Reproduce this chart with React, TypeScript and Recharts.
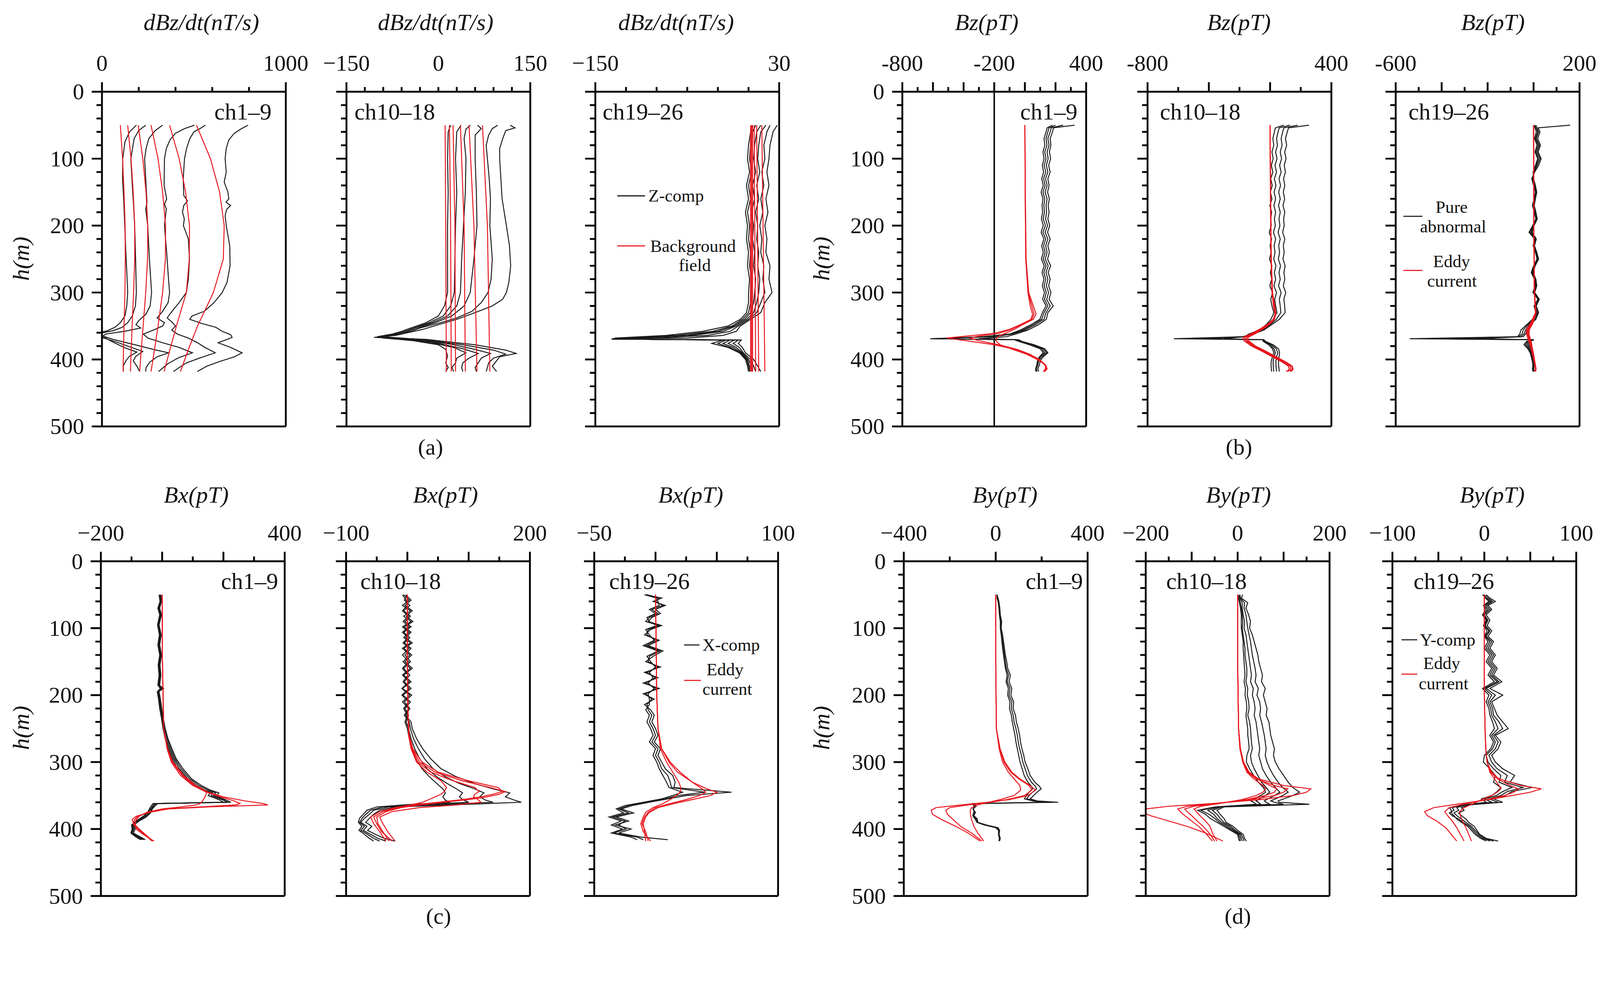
import React from 'react';
import { LineChart, Line, XAxis, YAxis, ReferenceLine } from 'recharts';

const FONT = '"Liberation Serif", "DejaVu Serif", serif';
const BLACK = '#1a1a1a';
const RED = '#e8141c';

// ---------- shared depth ticks ----------
const Y_TICKS = [0, 20, 40, 60, 80, 100, 120, 140, 160, 180, 200, 220, 240, 260, 280, 300, 320, 340, 360, 380, 400, 420, 440, 460, 480, 500];

// ---------- (a) dBz/dt ----------
const A1_RED_H = [50, 100, 150, 200, 250, 300, 350, 385, 418];
const A1_RED = [
  [100, 112, 120, 126, 127, 125, 120, 117, 115],
  [140, 158, 170, 178, 178, 172, 164, 159, 155],
  [197, 222, 240, 249, 248, 238, 224, 214, 205],
  [267, 305, 330, 346, 345, 330, 305, 286, 267],
  [368, 420, 455, 476, 475, 459, 405, 370, 338],
  [514, 590, 640, 665, 660, 606, 520, 470, 427],
];
const A1_BLACK: number[][][] = [
  [[50,187],[60,150],[75,125],[100,113],[130,112],[160,118],[200,124],[240,130],[280,137],[300,140],[320,135],[335,125],[345,100],[352,70],[357,30],[361,-35],[364,-30],[368,20],[374,60],[382,120],[389,190],[395,150],[402,130],[410,115],[418,116]],
  [[50,238],[58,200],[70,175],[100,157],[140,165],[170,172],[200,178],[250,183],[300,187],[320,182],[335,165],[345,140],[352,110],[357,60],[361,-10],[364,-38],[368,10],[374,80],[381,150],[388,222],[395,185],[402,170],[410,190],[418,205]],
  [[50,330],[58,290],[70,255],[85,240],[100,232],[140,240],[165,245],[175,238],[200,249],[250,258],[300,270],[320,262],[332,240],[342,200],[348,185],[353,210],[358,120],[362,20],[365,5],[370,60],[378,180],[385,280],[390,362],[396,300],[404,260],[412,240],[418,238]],
  [[50,503],[55,450],[62,400],[72,370],[85,350],[100,340],[140,338],[160,352],[168,340],[175,350],[200,340],[240,352],[280,362],[300,368],[315,360],[328,330],[338,300],[345,340],[350,330],[356,280],[362,225],[368,250],[375,330],[382,420],[390,492],[397,420],[406,360],[418,308]],
  [[50,562],[54,540],[60,500],[70,478],[85,460],[100,449],[130,442],[155,445],[163,465],[170,445],[180,438],[190,448],[200,443],[220,470],[250,476],[280,470],[300,459],[315,420],[325,390],[332,370],[338,355],[344,380],[350,400],[356,380],[362,410],[368,470],[375,520],[382,560],[390,616],[397,540],[405,460],[412,420],[418,389]],
  [[50,795],[55,760],[62,720],[72,690],[85,676],[100,670],[120,676],[135,665],[150,685],[160,690],[165,675],[170,700],[176,678],[185,670],[200,676],[230,695],[260,697],[285,680],[300,654],[315,610],[328,557],[335,490],[340,478],[346,540],[352,620],[358,654],[363,700],[367,708],[370,680],[375,632],[382,700],[390,762],[396,720],[403,640],[410,570],[418,519]],
];

const A2_RED_H = [50, 200, 418];
const A2_RED = [[11, 12, 13], [18, 20, 21], [24, 27, 28], [36, 42, 44], [50, 58, 63], [72, 80, 84]];
const A2_BLACK: number[][][] = [
  [[50,20],[60,16],[100,15],[150,16],[200,15],[250,15],[300,15],[320,10],[335,0],[345,-20],[353,-45],[358,-60],[362,-75],[366,-100],[368,-90],[372,-40],[378,0],[385,12],[395,15],[405,12],[412,16],[418,12]],
  [[50,37],[60,30],[100,28],[150,30],[200,28],[250,27],[300,26],[320,20],[335,8],[345,-15],[353,-40],[358,-55],[362,-70],[366,-98],[369,-60],[375,-10],[382,25],[390,45],[398,30],[405,28],[412,22],[418,25]],
  [[50,52],[56,45],[70,42],[100,45],[150,44],[200,41],[250,38],[300,36],[320,30],[335,15],[345,-10],[352,-35],[358,-50],[362,-68],[366,-95],[370,-50],[376,0],[384,40],[391,65],[398,50],[405,40],[412,38],[418,40]],
  [[50,64],[55,70],[65,60],[100,60],[150,62],[200,63],[250,58],[300,52],[320,42],[335,22],[345,-5],[352,-30],[358,-45],[362,-60],[366,-92],[370,-40],[377,20],[385,60],[391,85],[398,70],[405,65],[412,60],[418,62]],
  [[50,97],[55,88],[65,82],[80,78],[100,80],[130,83],[160,85],[200,84],[250,88],[280,86],[300,81],[315,70],[328,55],[338,30],[346,0],[353,-30],[358,-45],[362,-60],[366,-90],[370,-30],[378,40],[386,90],[392,110],[398,90],[405,82],[412,80],[418,78]],
  [[50,117],[54,125],[58,110],[70,105],[85,100],[100,100],[130,102],[160,104],[200,111],[230,116],[260,118],[285,115],[300,111],[310,105],[320,88],[330,60],[340,30],[348,0],[355,-25],[360,-50],[364,-70],[367,-105],[370,-20],[378,60],[386,110],[391,127],[396,100],[402,95],[410,88],[418,95]],
];

const A3_RED_H = [50, 418];
const A3_RED = [[2, 2], [3, 3], [4, 4], [5.5, 7], [8, 10], [13, 16]];
const A3_H = [50, 60, 80, 100, 120, 140, 160, 180, 200, 220, 240, 260, 280, 300, 315, 330, 340, 350, 358, 364, 368, 369.5, 371, 376, 382, 390, 400, 410, 418];
const A3_BLACK = [
  [28, 24, 21, 20, 18, 20, 17, 19, 16, 18, 17, 21, 20, 23, 16, 12, 2, -8, -12, -25, -60, -134, -7, -10, -6, -3, 5, 9, 12],
  [21, 18, 15, 16, 13, 15, 12, 14, 11, 13, 12, 15, 14, 16, 12, 8, 0, -10, -18, -40, -90, -134, -10, -15, -9, -5, 2, 5, 7],
  [17, 12, 10, 9, 11, 8, 10, 7, 9, 8, 10, 9, 11, 10, 8, 5, -2, -12, -25, -55, -110, -134, -14, -20, -12, -6, 0, 3, 4],
  [12, 8, 6, 5, 7, 4, 6, 3, 5, 4, 6, 5, 7, 6, 5, 2, -4, -14, -30, -60, -120, -134, -18, -25, -15, -7, -1, 1, 2],
  [7, 4, 2, 1, 3, 0, 2, -1, 1, 0, 2, 1, 3, 2, 2, 0, -6, -16, -35, -70, -125, -134, -22, -30, -18, -8, -2, 0, 1],
  [4, 2, 0, -1, 1, -2, 0, -3, -1, -2, 0, -1, 1, 0, 0, -2, -8, -20, -45, -80, -130, -134, -25, -36, -20, -9, -3, -1, 0],
];

// ---------- (b) Bz ----------
const B_H = [50, 54, 60, 70, 80, 90, 100, 110, 120, 130, 140, 150, 160, 170, 180, 190, 200, 210, 220, 230, 240, 250, 260, 270, 280, 290, 300, 310, 320, 330, 340, 348, 356, 362, 366, 369, 370.5, 373, 378, 384, 390, 396, 402, 408, 414, 418];
const B1_BLACK = [
  [324, 187, 180, 165, 170, 160, 168, 155, 165, 150, 158, 148, 160, 152, 158, 150, 162, 148, 165, 150, 160, 148, 168, 152, 165, 155, 170, 158, 185, 150, 140, 90, 20, -60, -120, -300, -40, -20, 60, 130, 150, 120, 100, 95, 85, 90],
  [250, 172, 165, 150, 158, 145, 152, 140, 150, 135, 145, 132, 145, 138, 142, 135, 148, 132, 150, 136, 145, 133, 152, 138, 150, 140, 155, 142, 165, 138, 125, 70, 0, -80, -200, -618, -50, -30, 50, 120, 142, 110, 90, 85, 75, 80],
  [200, 157, 150, 138, 144, 130, 138, 126, 136, 122, 132, 118, 130, 124, 128, 120, 134, 118, 136, 122, 132, 120, 138, 124, 136, 126, 140, 128, 150, 125, 110, 55, -15, -90, -250, -560, -60, -35, 40, 110, 130, 100, 85, 80, 72, 75],
  [180, 145, 138, 125, 130, 118, 125, 114, 122, 110, 120, 106, 118, 112, 116, 108, 120, 106, 124, 110, 120, 108, 126, 112, 124, 114, 128, 116, 138, 114, 98, 40, -30, -100, -280, -600, -70, -40, 30, 100, 120, 95, 82, 78, 70, 72],
];
const B1_RED_H = [50, 150, 250, 300, 320, 332, 340, 348, 355, 361, 365, 368, 372, 378, 385, 392, 400, 408, 414, 418];
const B1_RED = [
  [0, 2, 6, 20, 35, 50, 40, -30, -100, -200, -380, -511, -380, -200, -60, 20, 90, 130, 140, 125],
  [0, 2, 6, 22, 45, 60, 45, -25, -90, -170, -300, -359, -300, -170, -50, 30, 95, 135, 145, 130],
  [0, 3, 8, 25, 55, 73, 55, -15, -70, -130, -170, -185, -190, -162, -80, 10, 81, 134, 135, 119],
];
const B2_BLACK = [
  [254, 120, 112, 100, 108, 95, 104, 92, 100, 88, 96, 86, 95, 84, 96, 88, 92, 82, 96, 86, 92, 84, 98, 90, 96, 86, 102, 90, 95, 98, 60, 10, -40, -110, -180, -629, -40, -30, 20, 55, 62, 58, 55, 55, 58, 60],
  [180, 90, 82, 72, 78, 66, 75, 62, 72, 58, 68, 56, 66, 55, 66, 58, 64, 52, 66, 56, 62, 54, 68, 58, 66, 55, 72, 60, 66, 70, 40, 0, -50, -120, -175, -500, -45, -35, 10, 40, 50, 42, 38, 38, 40, 42],
  [130, 60, 52, 42, 48, 36, 45, 32, 42, 28, 38, 26, 36, 25, 36, 28, 34, 22, 36, 26, 32, 24, 38, 28, 36, 25, 42, 30, 36, 45, 20, -15, -60, -130, -170, -400, -48, -40, 0, 25, 35, 25, 20, 20, 22, 24],
  [90, 35, 28, 18, 24, 12, 20, 8, 18, 4, 14, 2, 12, -2, 10, 4, 8, -6, 10, 0, 6, -4, 12, 2, 10, -2, 16, 4, 12, 25, 5, -25, -70, -140, -165, -300, -50, -45, -10, 15, 25, 15, 8, 6, 8, 10],
];
const B2_RED_H = [50, 150, 250, 300, 320, 332, 340, 348, 355, 362, 367, 372, 380, 388, 396, 404, 410, 415, 418];
const B2_RED = [
  [0, 2, 6, 12, 22, 32, 20, -20, -70, -130, -176, -170, -121, -50, 15, 80, 120, 125, 105],
  [0, 2, 6, 14, 25, 34, 22, -15, -60, -120, -165, -160, -110, -40, 25, 90, 130, 135, 115],
  [0, 3, 7, 15, 28, 36, 25, -10, -55, -110, -155, -150, -100, -30, 35, 100, 140, 145, 130],
  [0, 3, 8, 16, 30, 38, 28, -5, -50, -100, -145, -140, -95, -25, 40, 105, 145, 150, 135],
];
const B3_BLACK = [
  [159, 20, 28, 18, 30, 20, 33, 22, 5, -8, 0, 8, 2, -5, 3, 10, -4, -20, 5, -2, 8, 15, 0, -10, 3, 6, -3, 20, 2, 10, -5, -30, -55, -60, -70, -539, -5, -30, -42, -25, -15, -10, -6, -3, -5, -3],
  [10, 15, 22, 12, 25, 15, 28, 16, 2, -5, 4, 10, 4, -3, 6, 12, -2, -15, 8, 0, 10, 18, 3, -7, 6, 9, 0, 18, 5, 14, 0, -25, -45, -50, -65, -450, -2, -25, -35, -20, -12, -8, -4, -2, -3, -1],
  [5, 10, 18, 8, 20, 10, 22, 12, 0, -3, 6, 12, 6, 0, 8, 14, 0, -10, 10, 2, 12, 20, 5, -4, 8, 12, 2, 22, 8, 18, 5, -20, -35, -42, -55, -350, 0, -20, -28, -15, -8, -5, -2, 0, -1, 0],
  [2, 6, 12, 4, 15, 6, 18, 8, -2, 0, 8, 14, 8, 3, 10, 16, 2, -6, 12, 4, 14, 22, 7, -1, 10, 14, 5, 25, 12, 22, 10, -15, -28, -35, -45, -250, 2, -15, -22, -10, -5, -2, 0, 2, 1, 2],
];
const B3_RED_H = [50, 200, 300, 330, 345, 355, 362, 368, 374, 382, 392, 404, 414, 418];
const B3_RED = [
  [0, 1, 3, 8, -12, -32, -30, -25, -20, -12, -5, 3, 8, 6],
  [0, 1, 3, 9, -8, -26, -28, -22, -18, -10, -3, 4, 9, 7],
  [0, 1, 4, 10, -5, -22, -24, -18, -14, -8, -2, 5, 10, 8],
  [0, 1, 4, 11, -2, -18, -20, -15, -10, -6, 0, 6, 11, 9],
];

// ---------- (c) Bx ----------
const C1_H = [50, 60, 70, 80, 95, 110, 125, 140, 155, 170, 185, 190, 195, 205, 220, 235, 250, 265, 280, 295, 310, 325, 335, 342, 346, 350, 356, 360, 362, 365, 370, 376, 382, 388, 394, 400, 406, 412, 416];
const C1_BLACK = [
  [-6, -3, -10, -4, -12, -5, -10, -4, -9, -6, -10, 5, -12, -8, -3, 2, 8, 16, 28, 42, 62, 90, 120, 150, 175, 168, 205, 224, -20, -27, -35, -40, -55, -78, -95, -92, -98, -75, -60],
  [-8, -5, -12, -6, -14, -7, -12, -6, -11, -8, -12, 0, -15, -10, -6, 0, 5, 12, 24, 38, 56, 84, 112, 140, 165, 160, 195, 215, -25, -30, -38, -45, -60, -82, -98, -95, -100, -80, -65],
  [-4, -2, -8, -2, -10, -3, -8, -2, -7, -4, -8, -4, -10, -6, -1, 4, 10, 19, 32, 46, 68, 96, 128, 158, 185, 178, 200, 210, -15, -22, -32, -38, -52, -75, -92, -88, -94, -70, -55],
  [-10, -7, -14, -8, -15, -9, -14, -8, -13, -10, -14, -6, -16, -12, -8, -2, 3, 10, 20, 34, 50, 78, 105, 132, 158, 150, 185, 200, -30, -35, -42, -48, -65, -85, -100, -98, -102, -85, -70],
];
const C1_RED_H = [50, 150, 250, 280, 300, 320, 335, 345, 352, 358, 362, 364, 367, 370, 375, 381, 386, 392, 400, 408, 418];
const C1_RED = [
  [0, 1, 5, 18, 35, 70, 110, 150, 200, 270, 330, 345, 150, 20, -40, -85, -98, -92, -75, -55, -30],
  [0, 1, 5, 17, 33, 66, 105, 145, 190, 235, 254, 240, 120, 10, -45, -80, -90, -95, -80, -58, -33],
  [0, 1, 5, 16, 30, 60, 100, 145, 140, 132, 124, 110, 60, 0, -50, -75, -85, -88, -85, -62, -27],
];
const C2_H = [50, 58, 66, 74, 82, 90, 98, 106, 114, 122, 130, 140, 150, 160, 170, 180, 190, 200, 210, 220, 230, 240, 250, 265, 280, 295, 310, 322, 332, 340, 346, 352, 357, 360, 363, 367, 372, 378, 384, 390, 396, 402, 408, 414, 418];
const C2_BLACK = [
  [-3, 6, -4, 8, -2, 9, -5, 6, -3, 8, -6, 7, -4, 8, -6, 6, -8, 7, -5, 4, -3, 6, 8, 15, 25, 38, 55, 80, 109, 140, 167, 160, 175, 186, 100, -20, -45, -55, -62, -68, -58, -65, -52, -38, -20],
  [-6, 3, -8, 5, -6, 6, -8, 3, -6, 5, -8, 4, -7, 5, -8, 3, -9, 4, -8, 2, -5, 3, 5, 10, 18, 28, 42, 62, 85, 110, 125, 118, 128, 140, 60, -30, -55, -62, -70, -76, -66, -72, -60, -48, -35],
  [0, -5, 4, -6, 5, -4, 6, -6, 4, -5, 6, -4, 5, -6, 4, -5, 6, -7, 5, -4, 2, -2, 2, 6, 12, 20, 32, 48, 65, 80, 90, 85, 92, 100, 30, -40, -60, -68, -74, -78, -70, -76, -65, -55, -45],
  [-8, -2, 0, -8, 2, -7, 3, -8, 1, -7, 3, -8, 2, -8, 1, -7, 3, -9, 2, -6, 0, -4, 0, 3, 8, 14, 24, 36, 48, 58, 62, 58, 62, 70, 10, -50, -66, -72, -78, -80, -74, -79, -70, -62, -55],
];
const C2_RED_H = [50, 150, 230, 260, 280, 300, 315, 328, 338, 344, 348, 352, 356, 360, 364, 368, 374, 382, 392, 404, 418];
const C2_RED = [
  [0, 0, 1, 3, 8, 20, 45, 90, 135, 160, 150, 130, 100, 60, 20, -10, -35, -50, -48, -40, -30],
  [0, 0, 1, 3, 7, 17, 38, 75, 110, 117, 110, 108, 115, 120, 80, 20, -25, -45, -40, -32, -20],
  [0, 0, 1, 2, 6, 15, 32, 55, 64, 60, 55, 45, 35, 25, 5, -20, -45, -60, -55, -45, -35],
  [0, 0, 1, 3, 9, 24, 50, 100, 148, 155, 140, 120, 90, 50, 10, -15, -40, -55, -50, -42, -25],
];
const C3_H = [50, 55, 60, 66, 72, 78, 84, 90, 96, 102, 110, 118, 126, 134, 142, 150, 158, 166, 174, 182, 190, 198, 206, 214, 222, 230, 240, 250, 260, 270, 280, 290, 300, 310, 320, 330, 338, 345, 350, 355, 360, 365, 370, 376, 382, 388, 394, 400, 406, 412, 416];
const C3_BLACK = [
  [-8, 5, -2, 8, 0, 4, -3, -6, 5, -4, -9, 3, -6, 6, -2, -8, 4, -9, 2, -10, 3, -10, -1, -9, -4, -1, -3, 0, 2, -1, 4, 2, 5, 8, 14, 16, 15, 62, 25, 10, -5, -19, -28, -18, -32, -22, -33, -20, -30, -12, 10],
  [-7, 3, 0, 6, -3, 2, -5, -8, 3, -6, -7, 1, -8, 4, -5, -6, 2, -7, 0, -8, 1, -8, -3, -7, -6, -3, -5, -2, 0, -3, 2, 0, 3, 5, 10, 12, 13, 40, 18, 8, -8, -22, -30, -22, -35, -25, -30, -24, -34, -15, -10],
  [-9, 1, 2, 3, -5, 0, -7, -5, 1, -8, -5, -1, -10, 2, -7, -4, 0, -5, -2, -6, -1, -6, -5, -5, -8, -5, -7, -4, -2, -5, 0, -2, 1, 3, 6, 9, 11, 22, 14, 5, -10, -25, -32, -26, -38, -28, -36, -27, -36, -20, -15],
];
const C3_RED_H = [50, 200, 250, 280, 300, 315, 330, 340, 345, 350, 356, 362, 368, 375, 382, 392, 404, 418];
const C3_RED = [
  [0, 1, 2, 5, 11, 18, 30, 42, 50, 45, 30, 15, 2, -5, -8, -10, -9, -8],
  [0, 1, 2, 5, 12, 20, 30, 38, 41, 36, 25, 12, 0, -6, -9, -11, -8, -6],
  [0, 1, 2, 4, 9, 14, 19, 21, 20, 17, 12, 6, -2, -8, -10, -12, -10, -4],
];

// ---------- (d) By ----------
const D1_H = [50, 55, 60, 70, 80, 90, 100, 110, 120, 130, 140, 150, 160, 170, 180, 190, 200, 210, 220, 230, 240, 250, 260, 270, 280, 290, 300, 310, 320, 330, 336, 340, 345, 350, 355, 358, 360, 362, 366, 370, 375, 380, 385, 390, 394, 398, 402, 408, 414, 418];
const D1_BLACK = [
  [6, 10, 14, 18, 20, 26, 24, 30, 34, 38, 42, 48, 52, 64, 58, 70, 66, 78, 76, 86, 90, 98, 104, 108, 114, 122, 128, 140, 150, 170, 190, 198, 180, 165, 150, 180, 272, -90, -85, -100, -88, -95, -80, -78, -40, 10, 17, 15, 20, 17],
  [6, 8, 12, 16, 18, 22, 22, 26, 30, 34, 38, 42, 46, 56, 50, 62, 58, 70, 68, 76, 80, 88, 94, 98, 104, 112, 118, 128, 138, 155, 172, 178, 160, 145, 135, 170, 240, -95, -90, -98, -92, -97, -85, -80, -45, 5, 15, 13, 18, 15],
  [6, 6, 10, 14, 16, 20, 20, 24, 27, 30, 34, 38, 42, 50, 45, 55, 52, 62, 60, 68, 72, 78, 84, 88, 94, 100, 106, 115, 124, 140, 155, 160, 145, 134, 125, 160, 200, -100, -95, -96, -95, -100, -90, -82, -50, 0, 12, 12, 16, 14],
];
const D1_RED_H = [50, 150, 250, 280, 300, 315, 325, 335, 342, 350, 356, 360, 364, 368, 372, 378, 386, 396, 406, 418];
const D1_RED = [
  [0, 0, 3, 19, 40, 70, 105, 150, 173, 140, 60, -36, -150, -260, -281, -275, -235, -174, -120, -68],
  [0, 0, 3, 17, 36, 65, 100, 145, 157, 125, 50, -20, -120, -200, -217, -210, -185, -153, -105, -60],
  [0, 0, 3, 15, 30, 55, 80, 105, 109, 80, 20, -30, -80, -105, -111, -110, -105, -95, -78, -52],
];
const D2_H = [50, 55, 62, 70, 80, 90, 100, 110, 120, 130, 140, 150, 160, 170, 180, 190, 200, 210, 220, 230, 240, 250, 260, 270, 280, 290, 300, 310, 320, 330, 338, 345, 350, 355, 358, 360, 363, 367, 372, 378, 384, 390, 396, 402, 408, 414, 418];
const D2_BLACK = [
  [11, 8, 22, 18, 24, 28, 26, 32, 36, 40, 44, 46, 50, 54, 52, 60, 56, 60, 64, 62, 68, 70, 72, 76, 80, 78, 82, 90, 100, 110, 120, 135, 120, 100, 88, 90, 156, -30, -45, -38, -30, -25, -10, 0, 12, 15, 19],
  [5, 6, 15, 14, 18, 20, 22, 25, 28, 30, 32, 35, 38, 40, 38, 45, 42, 48, 50, 48, 52, 55, 58, 60, 62, 60, 64, 70, 78, 88, 98, 110, 98, 82, 72, 80, 100, -35, -55, -45, -38, -30, -15, -5, 8, 12, 14],
  [3, 5, 10, 10, 12, 15, 14, 18, 20, 22, 24, 26, 28, 30, 28, 34, 32, 36, 38, 36, 40, 42, 44, 46, 48, 46, 50, 54, 62, 72, 82, 92, 80, 66, 58, 62, 70, -40, -65, -52, -45, -35, -20, -8, 5, 8, 10],
  [0, 3, 6, 8, 10, 11, 10, 12, 14, 16, 16, 18, 20, 20, 18, 22, 21, 24, 25, 22, 26, 28, 29, 30, 32, 28, 30, 36, 44, 52, 62, 70, 60, 48, 40, 45, 50, -45, -80, -62, -50, -40, -25, -12, 2, 5, 6],
  [0, 2, 4, 6, 8, 8, 8, 10, 12, 12, 13, 14, 15, 16, 14, 17, 16, 19, 20, 18, 20, 22, 22, 24, 25, 20, 19, 26, 35, 45, 56, 61, 50, 35, 29, 35, 40, -50, -87, -70, -60, -45, -30, -15, 0, 2, 4],
];
const D2_RED_H = [50, 150, 250, 280, 300, 315, 325, 335, 340, 345, 350, 356, 362, 366, 370, 374, 380, 388, 396, 406, 418];
const D2_RED = [
  [0, 0, 2, 6, 13, 25, 45, 100, 159, 150, 120, 50, -56, -150, -200, -210, -190, -150, -110, -70, -32],
  [0, 0, 2, 5, 12, 22, 40, 80, 109, 100, 80, 30, -50, -110, -130, -125, -115, -100, -85, -70, -55],
  [0, 0, 2, 5, 11, 20, 35, 55, 61, 55, 40, 10, -40, -80, -95, -90, -82, -70, -60, -55, -45],
  [0, 0, 2, 6, 12, 24, 42, 70, 85, 80, 60, 20, -45, -95, -115, -110, -100, -88, -75, -62, -50],
];
const D3_H = [50, 55, 60, 66, 72, 80, 88, 96, 104, 112, 120, 130, 140, 150, 160, 170, 180, 190, 200, 210, 220, 230, 240, 250, 260, 270, 280, 290, 300, 310, 320, 330, 338, 344, 350, 355, 360, 364, 368, 372, 376, 380, 385, 390, 396, 402, 408, 414, 418];
const D3_BLACK = [
  [2, 6, 12, 4, 8, 2, 6, 3, 8, 4, 10, 6, 12, 8, 14, 10, 19, 6, 20, 8, 11, 14, 20, 26, 12, 18, 15, 8, 12, 20, 33, 28, 52, 30, 23, 10, 20, -17, -25, -22, -28, -25, -20, -17, -11, -8, -5, 2, 15],
  [0, 4, 9, 2, 6, 0, 4, 1, 6, 2, 8, 4, 10, 6, 12, 8, 16, 2, 12, 6, 9, 10, 16, 20, 10, 15, 12, 5, 8, 14, 25, 22, 42, 25, 18, 5, 15, -20, -30, -28, -33, -30, -25, -20, -14, -10, -6, 0, 10],
  [-2, 2, 7, 0, 4, -1, 3, 0, 5, 1, 6, 2, 8, 4, 10, 6, 14, 0, 8, 4, 7, 8, 12, 15, 8, 12, 9, 2, 4, 10, 18, 16, 30, 20, 13, 0, 8, -22, -35, -33, -38, -35, -28, -23, -16, -12, -8, -2, 6],
  [-1, 1, 5, -1, 2, -2, 2, -1, 3, 0, 4, 0, 6, 2, 8, 4, 11, -2, 5, 2, 5, 6, 9, 11, 6, 10, 7, 0, -1, 6, 12, 10, 18, 14, 8, -3, 2, -24, -38, -36, -36, -33, -30, -25, -18, -14, -10, -4, 2],
];
const D3_RED_H = [50, 200, 260, 290, 300, 315, 325, 335, 340, 345, 350, 356, 362, 368, 374, 380, 388, 398, 408, 418];
const D3_RED = [
  [0, 0, 1, 2, 3, 8, 16, 40, 62, 50, 30, 5, -25, -55, -65, -62, -52, -42, -36, -30],
  [0, 0, 1, 2, 3, 7, 14, 28, 37, 32, 22, 3, -20, -38, -43, -40, -35, -30, -26, -22],
  [0, 0, 1, 2, 3, 6, 11, 16, 18, 14, 8, -3, -12, -22, -27, -26, -24, -20, -17, -14],
];

// ---------- helpers ----------
type Pt = { h: number; v: number };
const zip = (keys: number[], vals: number[]): Pt[] => keys.map((h, i) => ({ h, v: vals[i] }));
const fromPairs = (p: number[][]): Pt[] => p.map(([h, v]) => ({ h, v }));

interface Label { v: number; t: string }
interface PanelCfg {
  id: string;
  left: number; top: number; width: number; height: number;
  domain: [number, number];
  ticks: number[]; tall: number[]; labels: Label[];
  yLabels: boolean;
  black: Pt[][]; red: Pt[][];
  refX?: number;
}

const PAGE_W = 4378;
const PAGE_H = 2563;
const HX = 200;
const WY = 200;
const PADR = 110;
const PADB = 70;
const ROW1 = 251;
const ROW2 = 1536;
const PH = 916;
const PW = 503;

const M = '\u2212';

const panels: PanelCfg[] = [
  { id: 'a1', left: 279, top: ROW1, width: PW, height: PH, domain: [0, 1000], ticks: [0, 200, 400, 600, 800, 1000], tall: [0, 1000], labels: [{ v: 0, t: '0' }, { v: 1000, t: '1000' }], yLabels: true,
    black: A1_BLACK.map(fromPairs), red: A1_RED.map((r) => zip(A1_RED_H, r)) },
  { id: 'a2', left: 948, top: ROW1, width: PW, height: PH, domain: [-150, 150], ticks: [-150, -120, -90, -60, -30, 0, 30, 60, 90, 120, 150], tall: [-150, 150], labels: [{ v: -150, t: M + '150' }, { v: 0, t: '0' }, { v: 150, t: '150' }], yLabels: false,
    black: A2_BLACK.map(fromPairs), red: A2_RED.map((r) => zip(A2_RED_H, r)) },
  { id: 'a3', left: 1629, top: ROW1, width: PW, height: PH, domain: [-150, 30], ticks: [-150, -120, -90, -60, -30, 0, 30], tall: [-150, 30], labels: [{ v: -150, t: M + '150' }, { v: 30, t: '30' }], yLabels: false,
    black: A3_BLACK.map((r) => zip(A3_H, r)), red: A3_RED.map((r) => zip(A3_RED_H, r)) },
  { id: 'b1', left: 2469, top: ROW1, width: PW, height: PH, domain: [-800, 400], ticks: [-800, -700, -600, -500, -400, -300, -200, -100, 0, 100, 200, 300, 400], tall: [-800, -600, -400, -200, 0, 200, 400], labels: [{ v: -800, t: '-800' }, { v: -200, t: '-200' }, { v: 400, t: '400' }], yLabels: true,
    black: B1_BLACK.map((r) => zip(B_H, r)), red: B1_RED.map((r) => zip(B1_RED_H, r)), refX: -200 },
  { id: 'b2', left: 3140, top: ROW1, width: PW, height: PH, domain: [-800, 400], ticks: [-800, -600, -400, -200, 0, 200, 400], tall: [-800, -400, 0, 400], labels: [{ v: -800, t: '-800' }, { v: 400, t: '400' }], yLabels: false,
    black: B2_BLACK.map((r) => zip(B_H, r)), red: B2_RED.map((r) => zip(B2_RED_H, r)) },
  { id: 'b3', left: 3819, top: ROW1, width: PW, height: PH, domain: [-600, 200], ticks: [-600, -500, -400, -300, -200, -100, 0, 100, 200], tall: [-600, -400, -200, 0, 200], labels: [{ v: -600, t: '-600' }, { v: 200, t: '200' }], yLabels: false,
    black: B3_BLACK.map((r) => zip(B_H, r)), red: B3_RED.map((r) => zip(B3_RED_H, r)) },
  { id: 'c1', left: 276, top: ROW2, width: PW, height: PH, domain: [-200, 400], ticks: [-200, -100, 0, 100, 200, 300, 400], tall: [-200, 0, 200, 400], labels: [{ v: -200, t: M + '200' }, { v: 400, t: '400' }], yLabels: true,
    black: C1_BLACK.map((r) => zip(C1_H, r)), red: C1_RED.map((r) => zip(C1_RED_H, r)) },
  { id: 'c2', left: 947, top: ROW2, width: PW, height: PH, domain: [-100, 200], ticks: [-100, -50, 0, 50, 100, 150, 200], tall: [-100, 0, 100, 200], labels: [{ v: -100, t: M + '100' }, { v: 200, t: '200' }], yLabels: false,
    black: C2_BLACK.map((r) => zip(C2_H, r)), red: C2_RED.map((r) => zip(C2_RED_H, r)) },
  { id: 'c3', left: 1626, top: ROW2, width: PW, height: PH, domain: [-50, 100], ticks: [-50, -25, 0, 25, 50, 75, 100], tall: [-50, 0, 50, 100], labels: [{ v: -50, t: M + '50' }, { v: 100, t: '100' }], yLabels: false,
    black: C3_BLACK.map((r) => zip(C3_H, r)), red: C3_RED.map((r) => zip(C3_RED_H, r)) },
  { id: 'd1', left: 2473, top: ROW2, width: PW, height: PH, domain: [-400, 400], ticks: [-400, -200, 0, 200, 400], tall: [-400, 0, 400], labels: [{ v: -400, t: M + '400' }, { v: 0, t: '0' }, { v: 400, t: '400' }], yLabels: true,
    black: D1_BLACK.map((r) => zip(D1_H, r)), red: D1_RED.map((r) => zip(D1_RED_H, r)) },
  { id: 'd2', left: 3135, top: ROW2, width: PW, height: PH, domain: [-200, 200], ticks: [-200, -150, -100, -50, 0, 50, 100, 150, 200], tall: [-200, -100, 0, 100, 200], labels: [{ v: -200, t: M + '200' }, { v: 0, t: '0' }, { v: 200, t: '200' }], yLabels: false,
    black: D2_BLACK.map((r) => zip(D2_H, r)), red: D2_RED.map((r) => zip(D2_RED_H, r)) },
  { id: 'd3', left: 3810, top: ROW2, width: PW, height: PH, domain: [-100, 100], ticks: [-100, -75, -50, -25, 0, 25, 50, 75, 100], tall: [-100, -50, 0, 50, 100], labels: [{ v: -100, t: M + '100' }, { v: 0, t: '0' }, { v: 100, t: '100' }], yLabels: false,
    black: D3_BLACK.map((r) => zip(D3_H, r)), red: D3_RED.map((r) => zip(D3_RED_H, r)) },
];

function XTick(props: any) {
  const { payload, cfg } = props;
  const x = payload && payload.coordinate !== undefined ? payload.coordinate : props.x;
  const v = payload.value;
  const tall = cfg.tall.indexOf(v) >= 0;
  const len = tall ? 26 : 13;
  const lab = cfg.labels.find((l: Label) => l.v === v);
  return (
    <g>
      <line x1={x} x2={x} y1={HX} y2={HX - len} stroke="#000" strokeWidth={5} />
      {lab ? (
        <text x={x} y={HX - 78} textAnchor="middle" dominantBaseline="central" fontFamily={FONT} fontSize={62} fill="#111">{lab.t}</text>
      ) : null}
    </g>
  );
}

function YTick(props: any) {
  const { payload, show } = props;
  const y = payload && payload.coordinate !== undefined ? payload.coordinate : props.y;
  const v = payload.value;
  const major = v % 100 === 0;
  const len = major ? 28 : 15;
  return (
    <g>
      <line x1={WY} x2={WY - len} y1={y} y2={y} stroke="#000" strokeWidth={5} />
      {show && major ? (
        <text x={WY - 49} y={y} textAnchor="end" dominantBaseline="central" fontFamily={FONT} fontSize={62} fill="#111">{v}</text>
      ) : null}
    </g>
  );
}

function Panel({ cfg }: { cfg: PanelCfg }) {
  const W = WY + cfg.width + PADR;
  const H = HX + cfg.height + PADB;
  return (
    <div style={{ position: 'absolute', left: cfg.left - WY, top: cfg.top - HX }}>
      <LineChart width={W} height={H} layout="vertical" margin={{ top: 0, right: PADR, bottom: PADB, left: 0 }}>
        <XAxis type="number" orientation="top" domain={cfg.domain} allowDataOverflow ticks={cfg.ticks} interval={0}
          height={HX} axisLine={{ stroke: '#000', strokeWidth: 5 }} tickLine={false}
          tick={(p: any) => <XTick {...p} cfg={cfg} />} />
        <YAxis type="number" dataKey="h" domain={[0, 500]} allowDataOverflow ticks={Y_TICKS} interval={0}
          width={WY} axisLine={{ stroke: '#000', strokeWidth: 5 }} tickLine={false}
          tick={(p: any) => <YTick {...p} show={cfg.yLabels} />} />
        <ReferenceLine x={cfg.domain[1]} stroke="#000" strokeWidth={5} />
        <ReferenceLine y={500} stroke="#000" strokeWidth={5} />
        {cfg.refX !== undefined ? <ReferenceLine x={cfg.refX} stroke="#000" strokeWidth={4} /> : null}
        {cfg.black.map((d, i) => (
          <Line key={'k' + i} data={d} dataKey="v" type="linear" stroke={BLACK} strokeWidth={2.6} dot={false} isAnimationActive={false} />
        ))}
        {cfg.red.map((d, i) => (
          <Line key={'r' + i} data={d} dataKey="v" type="linear" stroke={RED} strokeWidth={2.6} dot={false} isAnimationActive={false} />
        ))}
      </LineChart>
    </div>
  );
}

const TITLE_FS = 64;
const LEG_FS = 48;

function T(props: { x: number; y: number; s: string; fs?: number; anchor?: string; italic?: boolean }) {
  return (
    <text x={props.x} y={props.y} textAnchor={(props.anchor || 'middle') as any} dominantBaseline="central"
      fontFamily={FONT} fontSize={props.fs || 62} fontStyle={props.italic ? 'italic' : 'normal'} fill="#111">{props.s}</text>
  );
}

function Overlay() {
  const titles = [
    { x: 551, y: 61, s: 'dBz/dt(nT/s)' }, { x: 1192, y: 61, s: 'dBz/dt(nT/s)' }, { x: 1850, y: 61, s: 'dBz/dt(nT/s)' },
    { x: 2700, y: 61, s: 'Bz(pT)' }, { x: 3390, y: 61, s: 'Bz(pT)' }, { x: 4085, y: 61, s: 'Bz(pT)' },
    { x: 537, y: 1354, s: 'Bx(pT)' }, { x: 1219, y: 1354, s: 'Bx(pT)' }, { x: 1890, y: 1354, s: 'Bx(pT)' },
    { x: 2750, y: 1354, s: 'By(pT)' }, { x: 3389, y: 1354, s: 'By(pT)' }, { x: 4083, y: 1354, s: 'By(pT)' },
  ];
  const ch = [
    { x: 743, y: 306, s: 'ch1\u20139', a: 'end' }, { x: 970, y: 306, s: 'ch10\u201318', a: 'start' }, { x: 1649, y: 306, s: 'ch19\u201326', a: 'start' },
    { x: 2948, y: 306, s: 'ch1\u20139', a: 'end' }, { x: 3174, y: 306, s: 'ch10\u201318', a: 'start' }, { x: 3854, y: 306, s: 'ch19\u201326', a: 'start' },
    { x: 761, y: 1590, s: 'ch1\u20139', a: 'end' }, { x: 986, y: 1590, s: 'ch10\u201318', a: 'start' }, { x: 1667, y: 1590, s: 'ch19\u201326', a: 'start' },
    { x: 2963, y: 1590, s: 'ch1\u20139', a: 'end' }, { x: 3191, y: 1590, s: 'ch10\u201318', a: 'start' }, { x: 3868, y: 1590, s: 'ch19\u201326', a: 'start' },
  ];
  const hm = [[58, 708], [58, 1992], [2248, 708], [2248, 1992]];
  return (
    <svg width={PAGE_W} height={PAGE_H} style={{ position: 'absolute', left: 0, top: 0, pointerEvents: 'none' }}>
      {titles.map((t, i) => <T key={'t' + i} x={t.x} y={t.y} s={t.s} fs={TITLE_FS} italic />)}
      {ch.map((t, i) => <T key={'c' + i} x={t.x} y={t.y} s={t.s} fs={64} anchor={t.a} />)}
      {hm.map(([x, y], i) => (
        <text key={'h' + i} x={x} y={y} transform={`rotate(-90 ${x} ${y})`} textAnchor="middle" dominantBaseline="central"
          fontFamily={FONT} fontSize={64} fontStyle="italic" fill="#111">h(m)</text>
      ))}
      <T x={1178} y={1223} s="(a)" />
      <T x={3390} y={1223} s="(b)" />
      <T x={1200} y={2507} s="(c)" />
      <T x={3387} y={2507} s="(d)" />

      {/* legend a3 */}
      <line x1={1689} x2={1765} y1={536} y2={536} stroke={BLACK} strokeWidth={3} />
      <T x={1774} y={536} s="Z-comp" fs={LEG_FS} anchor="start" />
      <line x1={1689} x2={1765} y1={673} y2={673} stroke={RED} strokeWidth={3} />
      <T x={1779} y={673} s="Background" fs={LEG_FS} anchor="start" />
      <T x={1901} y={726} s="field" fs={LEG_FS} />

      {/* legend b3 */}
      <line x1={3840} x2={3892} y1={592} y2={592} stroke={BLACK} strokeWidth={3} />
      <T x={3972} y={567} s="Pure" fs={LEG_FS} />
      <T x={3976} y={620} s="abnormal" fs={LEG_FS} />
      <line x1={3840} x2={3892} y1={740} y2={740} stroke={RED} strokeWidth={3} />
      <T x={3972} y={715} s="Eddy" fs={LEG_FS} />
      <T x={3973} y={768} s="current" fs={LEG_FS} />

      {/* legend c3 */}
      <line x1={1872} x2={1914} y1={1765} y2={1765} stroke={BLACK} strokeWidth={3} />
      <T x={1922} y={1765} s="X-comp" fs={LEG_FS} anchor="start" />
      <line x1={1872} x2={1918} y1={1862} y2={1862} stroke={RED} strokeWidth={3} />
      <T x={1984} y={1832} s="Eddy" fs={LEG_FS} />
      <T x={1990} y={1885} s="current" fs={LEG_FS} />

      {/* legend d3 */}
      <line x1={3835} x2={3878} y1={1751} y2={1751} stroke={BLACK} strokeWidth={3} />
      <T x={3885} y={1751} s="Y-comp" fs={LEG_FS} anchor="start" />
      <line x1={3835} x2={3878} y1={1845} y2={1845} stroke={RED} strokeWidth={3} />
      <T x={3945} y={1815} s="Eddy" fs={LEG_FS} />
      <T x={3950} y={1871} s="current" fs={LEG_FS} />
    </svg>
  );
}

export default function App() {
  const vw = typeof window !== 'undefined' ? window.innerWidth : PAGE_W;
  const vh = typeof window !== 'undefined' ? window.innerHeight : PAGE_H;
  const s = Math.min(1, vw / PAGE_W, vh / PAGE_H);
  return (
    <div style={{ position: 'fixed', left: 0, top: 0, width: '100vw', height: '100vh', overflow: 'hidden', background: '#fff' }}>
      <div style={{ position: 'absolute', left: 0, top: 0, width: PAGE_W, height: PAGE_H, transform: `scale(${s})`, transformOrigin: '0 0' }}>
        {panels.map((p) => <Panel key={p.id} cfg={p} />)}
        <Overlay />
      </div>
    </div>
  );
}
